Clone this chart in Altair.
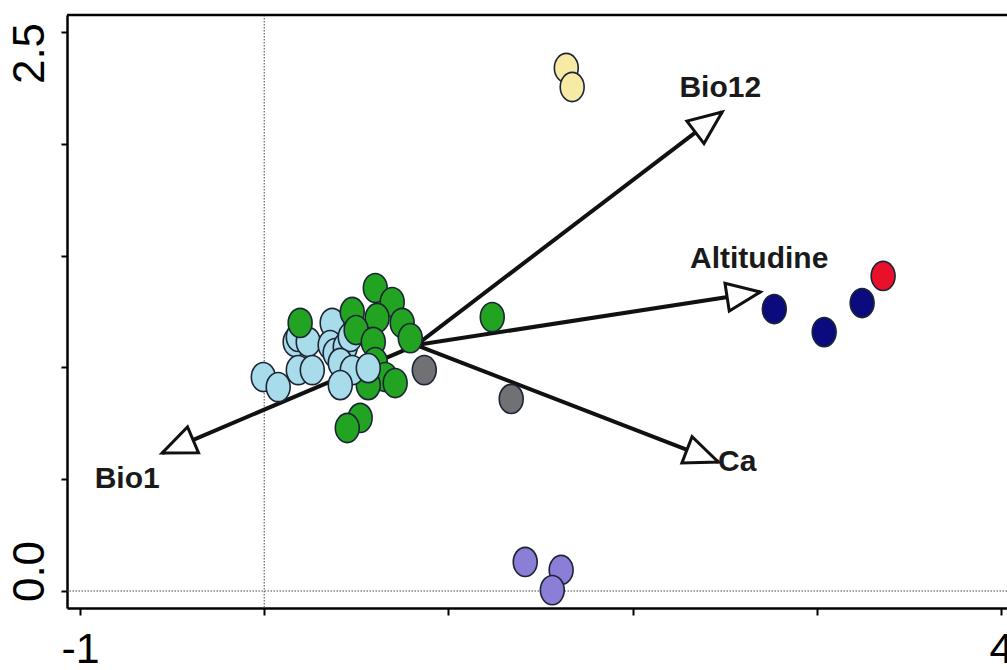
import math
import altair as alt
import pandas as pd

# ---------------- axes ----------------
x_ticks = [-1, 0, 1, 2, 3, 4]
y_ticks = [0.0, 0.5, 1.0, 1.5, 2.0, 2.5]
x_labeled = [-1, 4]
y_labeled = [0, 2.5]
x_domain = [-1.0706, 4.0325]
y_domain = [-0.076, 2.576]
ref_x = [0]
ref_y = [0]

# ---------------- sample points (drawing order) ----------------
pt_group = (["lb"] * 13 + ["g"] * 12 + ["lb"] * 3 + ["g"] * 4
            + ["grey"] * 2 + ["yellow"] * 2 + ["navy"] * 3 + ["red"] + ["purple"] * 3)
pt_x = [0.168, 0.185, 0.239, 0.369, 0.358, 0.385, 0.440, 0.467, 0.413, -0.005, 0.076, 0.185, 0.261,
        0.478, 0.603, 0.695, 0.749, 0.793, 0.613, 0.195, 0.499, 0.592, 0.603, 0.657, 0.565,
        0.478, 0.565, 0.413,
        0.711, 0.521, 0.451, 1.238,
        0.869, 1.341,
        1.640, 1.672,
        2.769, 3.040, 3.246,
        3.360,
        1.417, 1.612, 1.564]
pt_y = [1.114, 1.136, 1.114, 1.199, 1.100, 1.064, 1.091, 1.136, 1.020, 0.957, 0.912, 0.988, 0.988,
        1.248, 1.355, 1.292, 1.199, 1.131, 1.221, 1.199, 1.167, 1.114, 1.024, 0.957, 0.921,
        0.988, 0.997, 0.921,
        0.930, 0.774, 0.729, 1.225,
        0.988, 0.859,
        2.339, 2.254,
        1.261, 1.158, 1.288,
        1.409,
        0.130, 0.094, 0.004]

group_names = ["lb", "g", "grey", "yellow", "navy", "red", "purple"]
group_colors = ["#a9dcea", "#22a422", "#707075", "#f7eaa5", "#0b0b7d", "#e8102a", "#8a7ed6"]

# ---------------- environmental vectors ----------------
arrow_names = ["Bio12", "Altitudine", "Ca", "Bio1"]
arrow_x0 = [0.825, 0.825, 0.825, 0.825]
arrow_y0 = [1.100, 1.100, 1.100, 1.100]
arrow_x1 = [2.486, 2.693, 2.465, -0.554]
arrow_y1 = [2.142, 1.337, 0.577, 0.617]
label_x = [2.476, 2.687, 2.568, -0.744]
label_y = [2.250, 1.485, 0.577, 0.501]

# ---------------- layout ----------------
W, H = 940, 593
px_x = W / (x_domain[1] - x_domain[0])
px_y = H / (y_domain[1] - y_domain[0])

pts = pd.DataFrame({"x": pt_x, "y": pt_y, "grp": pt_group, "ord": list(range(len(pt_x)))})

angles = []
for a, b, c, d in zip(arrow_x0, arrow_y0, arrow_x1, arrow_y1):
    ang = math.degrees(math.atan2(-(d - b) * px_y, (c - a) * px_x)) % 360
    angles.append(ang)
arr = pd.DataFrame({"name": arrow_names, "x0": arrow_x0, "y0": arrow_y0,
                    "x1": arrow_x1, "y1": arrow_y1, "angle": angles,
                    "lx": label_x, "ly": label_y})

xs = alt.Scale(domain=x_domain, nice=False, zero=False)
ys = alt.Scale(domain=y_domain, nice=False, zero=False)

x_expr = "indexof([" + ",".join(str(v) for v in x_labeled) + "], datum.value) >= 0 ? '' + datum.value : ''"
y_expr = "indexof([" + ",".join(str(v) for v in y_labeled) + "], datum.value) >= 0 ? format(datum.value, '.1f') : ''"

xaxis = alt.Axis(values=x_ticks, labelExpr=x_expr, title=None, grid=False,
                 domainColor="black", domainWidth=2.5, tickColor="black", tickWidth=2,
                 tickSize=7, labelFont="Liberation Sans", labelFontSize=43,
                 labelBaseline="alphabetic", labelPadding=47, labelColor="black",
                 labelFlush=False, labelOverlap=False, labelBound=False)
yaxis = alt.Axis(values=y_ticks, labelExpr=y_expr, title=None, grid=False,
                 domainColor="black", domainWidth=2.5, tickColor="black", tickWidth=2,
                 tickSize=6, labelFont="Liberation Sans", labelFontSize=44,
                 labelAngle=270, labelAlign="center", labelBaseline="alphabetic",
                 labelPadding=18, labelColor="black", labelFlush=False,
                 labelOffset={"condition": {"test": "datum.value == 0", "value": -20}, "value": 21},
                 labelOverlap=False, labelBound=False)


def X(f):
    return alt.X(f, type="quantitative", scale=xs, axis=xaxis)


def Y(f):
    return alt.Y(f, type="quantitative", scale=ys, axis=yaxis)


vref = alt.Chart(pd.DataFrame({"xr": ref_x})).mark_rule(
    color="#444444", strokeWidth=1, strokeDash=[1.5, 1.5]).encode(x=X("xr"))
href = alt.Chart(pd.DataFrame({"yr": ref_y})).mark_rule(
    color="#444444", strokeWidth=1, strokeDash=[1.5, 1.5]).encode(y=Y("yr"))

lines = alt.Chart(arr).mark_rule(color="#111111", strokeWidth=4).encode(
    x=X("x0"), y=Y("y0"), x2="x1", y2="y1")

tri_path = "M0,0L-1,-0.42L-1,0.42Z"
heads = alt.Chart(arr).mark_point(
    shape=tri_path, filled=True, fill="white", stroke="#111111", strokeWidth=3,
    size=4500, opacity=1, strokeJoin="miter").encode(
    x=X("x1"), y=Y("y1"), angle=alt.Angle("angle:Q", scale=None))

ellipse = ("M0.82,0C0.82,0.5523,0.4529,1,0,1C-0.4529,1,-0.82,0.5523,-0.82,0"
           "C-0.82,-0.5523,-0.4529,-1,0,-1C0.4529,-1,0.82,-0.5523,0.82,0Z")
points = alt.Chart(pts).mark_point(
    shape=ellipse, filled=True, size=850, stroke="#1c2535", strokeWidth=1.6,
    opacity=1).encode(
    x=X("x"), y=Y("y"),
    fill=alt.Fill("grp:N", scale=alt.Scale(domain=group_names, range=group_colors), legend=None),
    order=alt.Order("ord:Q"))

labels = alt.Chart(arr).mark_text(
    font="Liberation Sans", fontWeight="bold", fontSize=30, color="#1a1a1a",
    align="center", baseline="middle").encode(
    x=X("lx"), y=Y("ly"), text="name:N")

topline = alt.Chart(pd.DataFrame({"k": [0]})).mark_rule(color="black", strokeWidth=2.5).encode(
    x=alt.value(0), x2=alt.value(W), y=alt.value(0))

chart = alt.layer(vref, href, lines, heads, points, labels, topline).properties(
    width=W, height=H,
    padding={"left": 67, "top": 15, "right": 0, "bottom": 62},
    autosize=alt.AutoSizeParams(type="none"),
    background="white",
).configure_view(stroke=None)

chart.save("out.html", embed_options={"renderer": "svg", "actions": False})
